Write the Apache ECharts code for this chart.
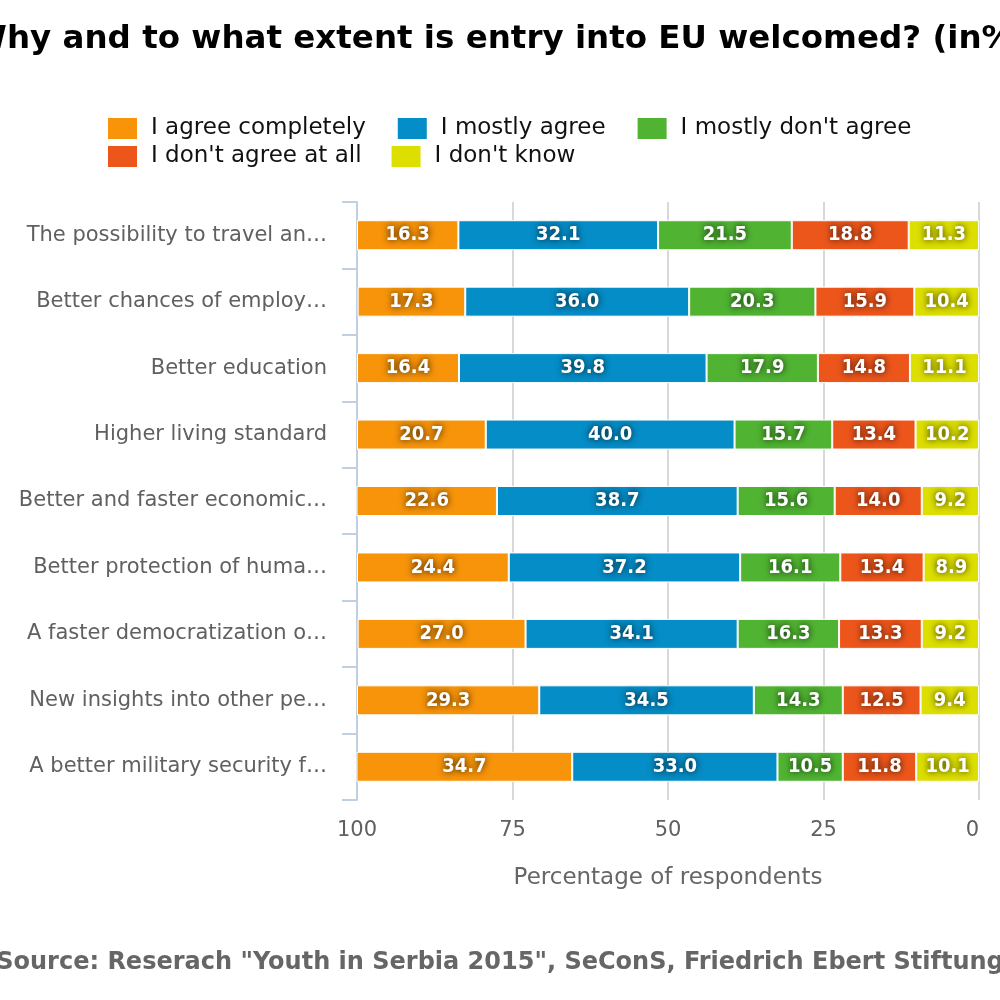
<!DOCTYPE html>
<html>
<head>
<meta charset="utf-8">
<style>
  html, body { margin: 0; padding: 0; background: #fff; }
  #main { width: 1000px; height: 1000px; }
</style>
<script src="https://cdn.jsdelivr.net/npm/echarts@6/dist/echarts.min.js"></script>
</head>
<body>
<div id="main"></div>
<script>
const categories = [
  'The possibility to travel an…',
  'Better chances of employ…',
  'Better education',
  'Higher living standard',
  'Better and faster economic…',
  'Better protection of huma…',
  'A faster democratization o…',
  'New insights into other pe…',
  'A better military security f…'
]

const agreeCompletely = [16.3, 17.3, 16.4, 20.7, 22.6, 24.4, 27.0, 29.3, 34.7]
const mostlyAgree = [32.1, 36.0, 39.8, 40.0, 38.7, 37.2, 34.1, 34.5, 33.0]
const mostlyDontAgree = [21.5, 20.3, 17.9, 15.7, 15.6, 16.1, 16.3, 14.3, 10.5]
const dontAgreeAtAll = [18.8, 15.9, 14.8, 13.4, 14.0, 13.4, 13.3, 12.5, 11.8]
const dontKnow = [11.3, 10.4, 11.1, 10.2, 9.2, 8.9, 9.2, 9.4, 10.1]

const xTicks = [0, 25, 50, 75, 100]

const font = 'DejaVu Sans'

// stacking starts at 0 (right side, axis is inverted), so "I don't know" goes first
const seriesDefs = [
  { name: "I don't know", data: dontKnow, color: '#DDDF00' },
  { name: "I don't agree at all", data: dontAgreeAtAll, color: '#ED561B' },
  { name: "I mostly don't agree", data: mostlyDontAgree, color: '#50B432' },
  { name: 'I mostly agree', data: mostlyAgree, color: '#058DC7' },
  { name: 'I agree completely', data: agreeCompletely, color: '#F7940A' }
]

const series = seriesDefs.map((s) => ({
  name: s.name,
  type: 'bar',
  stack: 'total',
  barWidth: 30,
  data: s.data,
  itemStyle: { color: s.color, borderColor: '#fff', borderWidth: 1 },
  label: {
    show: true,
    position: 'inside',
    formatter: (p) => p.value.toFixed(1),
    fontFamily: "'DejaVu Sans Condensed', 'DejaVu Sans'",
    fontWeight: 'bold',
    fontSize: 20,
    color: '#fff',
    textShadowColor: 'rgba(0,0,0,0.85)',
    textShadowBlur: 7
  },
  emphasis: { disabled: true }
}))

const legendCommon = {
  left: 106,
  padding: 0,
  icon: 'rect',
  itemWidth: 31,
  itemHeight: 23,
  itemGap: 30,
  selectedMode: false,
  textStyle: { fontFamily: font, fontSize: 23, color: '#111', padding: [0, 0, 0, 8] }
}

const chart = echarts.init(document.getElementById('main'))
chart.setOption({
  animation: false,
  title: [
    {
      text: 'Why and to what extent is entry into EU welcomed? (in%)',
      left: 'center',
      top: 18,
      textStyle: { fontFamily: font, fontWeight: 'bold', fontSize: 32.5, color: '#000' }
    },
    {
      text: 'Source: Reserach "Youth in Serbia 2015", SeConS, Friedrich Ebert Stiftung',
      left: 'center',
      top: 946,
      textStyle: { fontFamily: font, fontWeight: 'bold', fontSize: 24, color: '#666' }
    }
  ],
  legend: [
    Object.assign({}, legendCommon, {
      top: 116,
      data: ['I agree completely', 'I mostly agree', "I mostly don't agree"]
    }),
    Object.assign({}, legendCommon, {
      top: 144,
      itemGap: 28,
      data: ["I don't agree at all", "I don't know"]
    })
  ],
  grid: { left: 357, right: 21, top: 202, bottom: 200, containLabel: false },
  xAxis: {
    type: 'value',
    min: xTicks[0],
    max: xTicks[xTicks.length - 1],
    interval: 25,
    inverse: true,
    name: 'Percentage of respondents',
    nameLocation: 'middle',
    nameGap: 67,
    nameTextStyle: { fontFamily: font, fontSize: 23, color: '#666' },
    axisLine: { show: false },
    axisTick: { show: false },
    axisLabel: {
      fontFamily: font,
      fontSize: 21,
      color: '#606060',
      margin: 20,
      alignMinLabel: 'right'
    },
    splitLine: { show: true, lineStyle: { color: '#D8D8D8', width: 2 } }
  },
  yAxis: {
    type: 'category',
    position: 'left',
    inverse: true,
    data: categories,
    axisLine: { show: true, onZero: false, lineStyle: { color: '#C0D0E0', width: 2 } },
    axisTick: { show: true, length: 15, lineStyle: { color: '#C0D0E0', width: 2 } },
    axisLabel: { fontFamily: font, fontSize: 21, color: '#606060', margin: 30 },
    splitLine: { show: false }
  },
  series: series
})
</script>
</body>
</html>
